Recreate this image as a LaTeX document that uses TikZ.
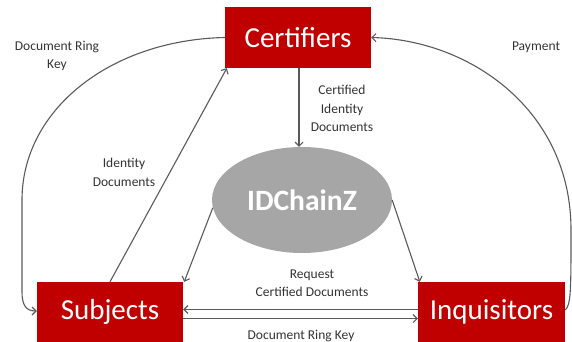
\documentclass[tikz,border=0pt]{standalone}
\usepackage{fontspec}
\setmainfont{Carlito}
\usetikzlibrary{arrows.meta,shapes.geometric,calc}
\definecolor{boxred}{HTML}{C00000}
\definecolor{ellgray}{HTML}{A6A6A6}
\definecolor{arrgray}{HTML}{5A5A5A}
\definecolor{txtgray}{HTML}{333333}
\begin{document}
\begin{tikzpicture}[x=1pt,y=-1pt,
  redbox/.style={rectangle,fill=boxred,text=white,font=\fontsize{29}{32}\selectfont,inner sep=0pt,minimum width=146pt,minimum height=61pt},
  lbl/.style={text=txtgray,font=\fontsize{13.5}{18.5}\selectfont,align=center,inner sep=0pt},
  arr/.style={draw=arrgray,line width=1.1pt,-{Straight Barb[length=4pt,width=8pt]}}]
\useasboundingbox (0,0) rectangle (572,342);
\node[redbox] (cert) at (298,37.5) {Certifiers};
\node[redbox,minimum height=60pt] (subj) at (110,312) {Subjects};
\node[redbox,minimum height=60pt,minimum width=147pt] (inq) at (491.5,312) {Inquisitors};
\node[ellipse,fill=ellgray,text=white,minimum width=180pt,minimum height=106pt,inner sep=0pt,font=\bfseries\fontsize{29.5}{32}\selectfont] (ell) at (302,200) {IDChainZ};
% labels
\node[lbl] (l1) at (57,56) {Document Ring\\Key};
\node[lbl] (l2) at (536,47) {Payment};
\node[lbl] (l3) at (342,108.5) {Certified\\Identity\\Documents};
\node[lbl] (l4) at (124,172.5) {Identity\\Documents};
\node[lbl] (l5) at (312,283) {Request\\Certified Documents};
\node[lbl] (l6) at (301,336) {Document Ring Key};
% connectors
\draw[arr] (cert.south -| 299,0) -- (ell.north -| 299,0);
\draw[arr] (subj.north) -- ([xshift=2pt]cert.south west);
\draw[arr] (ell.185) -- ([xshift=1pt]subj.north east);
\draw[arr] (ell.east) -- ([xshift=2pt]inq.north west);
\draw[arr] ([yshift=2.5pt]inq.west) -- ([yshift=2.5pt]subj.east);
\draw[arr] ([yshift=-6.5pt]subj.east) -- ([yshift=-6.5pt]inq.west);
\draw[arr] (cert.west) .. controls (110,40) and (22,110) .. (22,200) -- (22,292) .. controls (22,305) and (26,311) .. ([yshift=1pt]subj.west);
\draw[arr] ([yshift=2pt]inq.east) .. controls (571,305) and (571,290) .. (571,230) .. controls (571,110) and (470,40) .. (cert.east);
\end{tikzpicture}
\end{document}
